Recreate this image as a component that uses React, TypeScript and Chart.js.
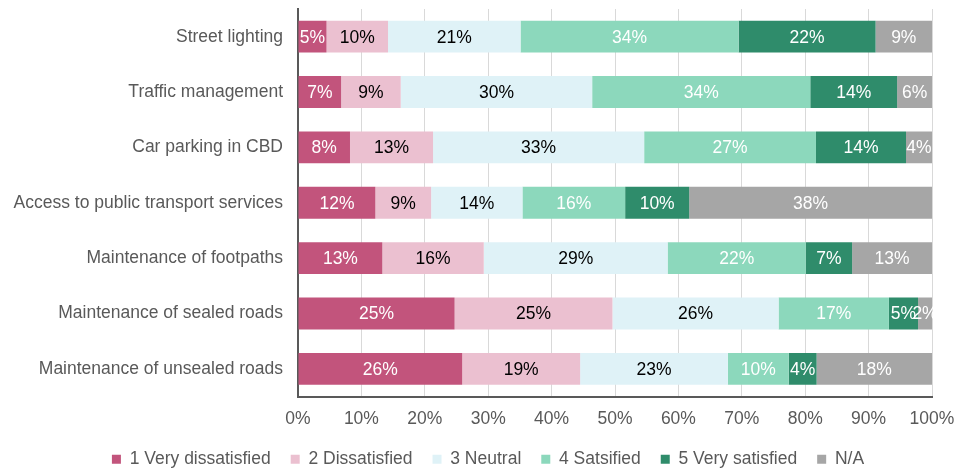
import React, { useEffect, useRef } from "react";
import { Chart, registerables } from "chart.js";

Chart.register(...registerables);

const categories = [
  "Street lighting",
  "Traffic management",
  "Car parking in CBD",
  "Access to public transport services",
  "Maintenance of footpaths",
  "Maintenance of sealed roads",
  "Maintenance of unsealed roads",
];

const seriesNames = [
  "1 Very dissatisfied",
  "2 Dissatisfied",
  "3 Neutral",
  "4 Satsified",
  "5 Very satisfied",
  "N/A",
];

const veryDissatisfied = [4.5, 6.8, 8.2, 12.2, 13.3, 24.7, 25.9];
const dissatisfied = [9.7, 9.4, 13.1, 8.8, 16.0, 24.9, 18.6];
const neutral = [20.9, 30.2, 33.3, 14.4, 29.0, 26.2, 23.3];
const satisfied = [34.4, 34.4, 27.1, 16.2, 21.8, 17.4, 9.6];
const verySatisfied = [21.6, 13.7, 14.2, 10.1, 7.3, 4.6, 4.4];
const notApplicable = [8.9, 5.5, 4.1, 38.3, 12.6, 2.2, 18.2];

const xTicks = [0, 10, 20, 30, 40, 50, 60, 70, 80, 90, 100];

const seriesValues = [veryDissatisfied, dissatisfied, neutral, satisfied, verySatisfied, notApplicable];
const seriesColors = ["#C2547C", "#EBC0D0", "#DFF2F7", "#8CD8BC", "#2F8C6B", "#A6A6A6"];
const labelColors = ["#FFFFFF", "#000000", "#000000", "#FFFFFF", "#FFFFFF", "#FFFFFF"];

const FONT = "'Liberation Sans', Arial, sans-serif";
const FS = 17.5;

const segmentLabels = {
  id: "segmentLabels",
  afterDatasetsDraw(chart: any) {
    const ctx = chart.ctx;
    ctx.save();
    ctx.font = `${FS}px ${FONT}`;
    ctx.textAlign = "center";
    ctx.textBaseline = "middle";
    chart.data.datasets.forEach((ds: any, di: number) => {
      const meta = chart.getDatasetMeta(di);
      if (meta.hidden) return;
      meta.data.forEach((bar: any, i: number) => {
        const v = ds.data[i];
        const cx = (bar.x + bar.base) / 2;
        ctx.fillStyle = labelColors[di];
        ctx.fillText(Math.round(v) + "%", cx, bar.y + 1);
      });
    });
    ctx.restore();
  },
};

const legendShift = {
  id: "legendShift",
  afterLayout(chart: any) {
    if (chart.legend) chart.legend.left = 44;
  },
};

export default function App() {
  const ref = useRef<HTMLCanvasElement | null>(null);
  useEffect(() => {
    if (!ref.current) return;
    const chart = new Chart(ref.current, {
      type: "bar",
      data: {
        labels: categories,
        datasets: seriesNames.map((name, i) => ({
          label: name,
          data: seriesValues[i],
          backgroundColor: seriesColors[i],
          borderWidth: 0,
          barPercentage: 0.575,
          categoryPercentage: 1,
        })),
      },
      options: {
        indexAxis: "y",
        animation: false,
        responsive: true,
        maintainAspectRatio: false,
        layout: { padding: { left: 11, right: 25, top: 9, bottom: 0 } },
        scales: {
          x: {
            stacked: true,
            min: 0,
            max: 100,
            afterBuildTicks: (axis: any) => {
              axis.ticks = xTicks.map((v) => ({ value: v }));
            },
            afterFit: (axis: any) => {
              axis.height = 34;
              axis.paddingLeft = 0;
              axis.paddingRight = 0;
            },
            ticks: {
              callback: (v: any) => v + "%",
              color: "#595959",
              font: { family: FONT, size: FS },
              padding: 12,
              maxRotation: 0,
            },
            grid: { color: "#D9D9D9", drawTicks: false, lineWidth: 1 },
            border: { display: true, color: "#595959", width: 2 },
          },
          y: {
            stacked: true,
            afterFit: (axis: any) => {
              axis.width = 287;
              axis.paddingTop = 0;
              axis.paddingBottom = 0;
            },
            ticks: {
              color: "#595959",
              font: { family: FONT, size: FS },
              padding: 15,
            },
            grid: { display: false, drawTicks: false },
            border: { display: true, color: "#595959", width: 2 },
          },
        },
        plugins: {
          legend: {
            position: "bottom",
            labels: {
              boxWidth: 9,
              boxHeight: 9,
              padding: 20,
              color: "#595959",
              font: { family: FONT, size: FS },
            },
          },
          tooltip: { enabled: false },
        },
      },
      plugins: [segmentLabels, legendShift],
    });
    return () => chart.destroy();
  }, []);
  return (
    <div style={{ position: "fixed", left: 0, top: 0, width: 957, height: 478 }}>
      <canvas ref={ref} />
    </div>
  );
}
